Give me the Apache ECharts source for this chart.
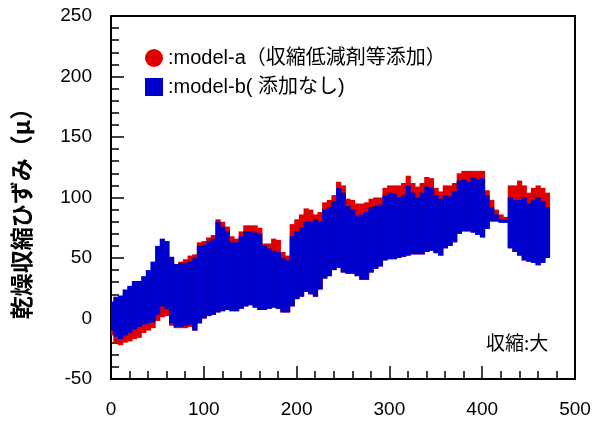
<!DOCTYPE html>
<html>
<head>
<meta charset="utf-8">
<script src="https://cdn.jsdelivr.net/npm/echarts@6/dist/echarts.min.js"></script>
<style>
  html, body { margin: 0; padding: 0; background: #fff; }
  #chart { width: 593px; height: 424px; }
</style>
</head>
<body>
<div id="chart"></div>
<script>
// 経過日数 (5日ごとの区間中心)
const days = [
  0, 5, 10, 15, 20, 25, 30, 35, 40, 45,
  50, 55, 60, 65, 70, 75, 80, 85, 90, 95,
  100, 105, 110, 115, 120, 125, 130, 135, 140, 145,
  150, 155, 160, 165, 170, 175, 180, 185, 190, 195,
  200, 205, 210, 215, 220, 225, 230, 235, 240, 245,
  250, 255, 260, 265, 270, 275, 280, 285, 290, 295,
  300, 305, 310, 315, 320, 325, 330, 335, 340, 345,
  350, 355, 360, 365, 370, 375, 380, 385, 390, 395,
  400, 405, 410, 415, 420, 425, 430, 435, 440, 445,
  450, 455, 460, 465, 470
];
// model-a 上限 / 下限
const aHigh = [
  10, 14, 15, 18, 22, 25, 26, 30, 32, 36,
  40, 45, 48, 46, 44, 47, 49, 52, 53, 63,
  64, 67, 69, 82, 80, 76, 68, 66, 72, 77,
  77, 77, 75, 62, 62, 66, 65, 55, 52, 78,
  82, 86, 91, 90, 86, 88, 96, 98, 102, 113,
  110, 99, 98, 95, 95, 96, 99, 100, 100, 108,
  110, 110, 110, 112, 118, 112, 109, 112, 117, 116,
  108, 105, 110, 110, 112, 120, 122, 122, 122, 122,
  122, 106, 98, 90, 86, 84, 110, 110, 114, 110,
  104, 108, 110, 108, 104
];
const aLow = [
  -14, -20, -22, -20, -19, -17, -16, -12, -10, -8,
  -2, 1, 2, -6, -8, -8, -8, -7, -10, -4,
  0, 2, 3, 5, 6, 7, 6, 6, 8, 10,
  11, 9, 7, 7, 8, 9, 8, 5, 5, 10,
  16, 18, 22, 20, 18, 24, 33, 35, 40, 42,
  38, 37, 37, 35, 32, 32, 38, 41, 43, 48,
  49, 49, 50, 51, 52, 53, 53, 53, 55, 56,
  54, 52, 58, 60, 63, 70, 72, 72, 71, 69,
  67, 74, 82, 84, 81, 80, 58, 55, 52, 48,
  47, 46, 44, 46, 50
];
// model-b 上限 / 下限
const bHigh = [
  14, 18, 19, 24, 27, 31, 31, 35, 40, 47,
  60, 66, 64, 51, 45, 46, 46, 47, 50, 60,
  61, 64, 66, 80, 76, 72, 63, 63, 68, 72,
  72, 71, 70, 60, 58, 56, 55, 50, 48, 68,
  72, 75, 80, 80, 82, 80, 90, 92, 97, 108,
  104, 93, 90, 85, 86, 88, 92, 93, 94, 102,
  104, 103, 100, 102, 110, 104, 100, 104, 109, 108,
  102, 99, 102, 101, 105, 114, 115, 113, 117, 115,
  116, 102, 92, 86, 82, 82, 100, 98, 98, 100,
  95, 98, 100, 97, 92
];
const bLow = [
  -10, -15, -17, -14, -12, -9, -7, -5, -4, -3,
  3, 10, 8, -4, -7, -7, -6, -5, -10, -4,
  0, 2, 3, 5, 6, 7, 6, 6, 8, 10,
  11, 9, 7, 7, 8, 9, 8, 5, 5, 10,
  16, 18, 22, 20, 18, 24, 33, 35, 40, 42,
  38, 37, 37, 35, 32, 32, 38, 41, 43, 48,
  49, 49, 50, 51, 52, 53, 53, 53, 55, 56,
  54, 52, 58, 60, 63, 70, 72, 72, 71, 69,
  67, 74, 80, 80, 79, 79, 58, 55, 52, 48,
  47, 46, 44, 46, 50
];
const xTicks = [0, 100, 200, 300, 400, 500];
const yTicks = [-50, 0, 50, 100, 150, 200, 250];

const nameA = ':model-a（収縮低減剤等添加）';
const nameB = ':model-b( 添加なし)';
const colorA = '#e00000';
const colorB = '#0000cc';

function bandSeries(name, color, low, high) {
  return {
    name: name,
    type: 'custom',
    clip: true,
    itemStyle: { color: color },
    data: days.map((d, i) => [d, low[i], high[i]]),
    renderItem: function (params, api) {
      const x = api.value(0);
      const p1 = api.coord([x - 2.5, api.value(2)]);
      const p2 = api.coord([x + 2.5, api.value(1)]);
      return {
        type: 'rect',
        shape: { x: p1[0], y: p1[1], width: p2[0] - p1[0] + 0.6, height: p2[1] - p1[1] },
        style: { fill: color }
      };
    }
  };
}

const chart = echarts.init(document.getElementById('chart'));
chart.setOption({
  animation: false,
  textStyle: { fontFamily: 'Liberation Sans, Arial, sans-serif' },
  grid: {
    left: 111, right: 18, top: 16, bottom: 45,
    outerBoundsMode: 'none',
    show: true, borderColor: '#000', borderWidth: 2, backgroundColor: 'transparent'
  },
  legend: {
    orient: 'vertical',
    left: 140,
    top: 43,
    itemWidth: 18,
    itemHeight: 18,
    itemGap: 9,
    textStyle: { fontSize: 20, color: '#000', lineHeight: 19, fontFamily: 'Liberation Sans, Noto Sans CJK JP, sans-serif' },
    data: [
      { name: nameA, icon: 'circle', itemStyle: { color: colorA } },
      { name: nameB, icon: 'rect', itemStyle: { color: colorB } }
    ]
  },
  xAxis: {
    type: 'value',
    min: xTicks[0],
    max: xTicks[xTicks.length - 1],
    interval: 100,
    axisLine: { show: true, onZero: false, lineStyle: { color: '#000', width: 2 } },
    axisTick: { show: true, inside: true, length: 13, lineStyle: { color: '#000', width: 1.5 } },
    minorTick: { show: true, splitNumber: 5, length: 8, lineStyle: { color: '#000', width: 1.5 } },
    splitLine: { show: false },
    axisLabel: { fontSize: 19, color: '#000', margin: 21 }
  },
  yAxis: {
    type: 'value',
    min: yTicks[0],
    max: yTicks[yTicks.length - 1],
    interval: 50,
    axisLine: { show: true, onZero: false, lineStyle: { color: '#000', width: 2 } },
    axisTick: { show: true, inside: true, length: 13, lineStyle: { color: '#000', width: 1.5 } },
    minorTick: { show: true, splitNumber: 5, length: 8, lineStyle: { color: '#000', width: 1.5 } },
    splitLine: { show: false },
    axisLabel: { fontSize: 19, color: '#000', margin: 19 }
  },
  graphic: [{
    type: 'text',
    x: 21,
    y: 208,
    rotation: Math.PI / 2,
    style: {
      text: '乾燥収縮ひずみ（μ）', fontSize: 23, fontWeight: 'bold', fill: '#000',
      fontFamily: 'Noto Sans CJK JP, sans-serif', align: 'center', verticalAlign: 'middle'
    }
  }, {
    type: 'text',
    left: 486,
    top: 333,
    style: { text: '収縮:大', fontSize: 19, fill: '#000', fontFamily: 'Noto Sans CJK JP, sans-serif' }
  }],
  series: [
    bandSeries(nameA, colorA, aLow, aHigh),
    bandSeries(nameB, colorB, bLow, bHigh)
  ]
});
</script>
</body>
</html>
